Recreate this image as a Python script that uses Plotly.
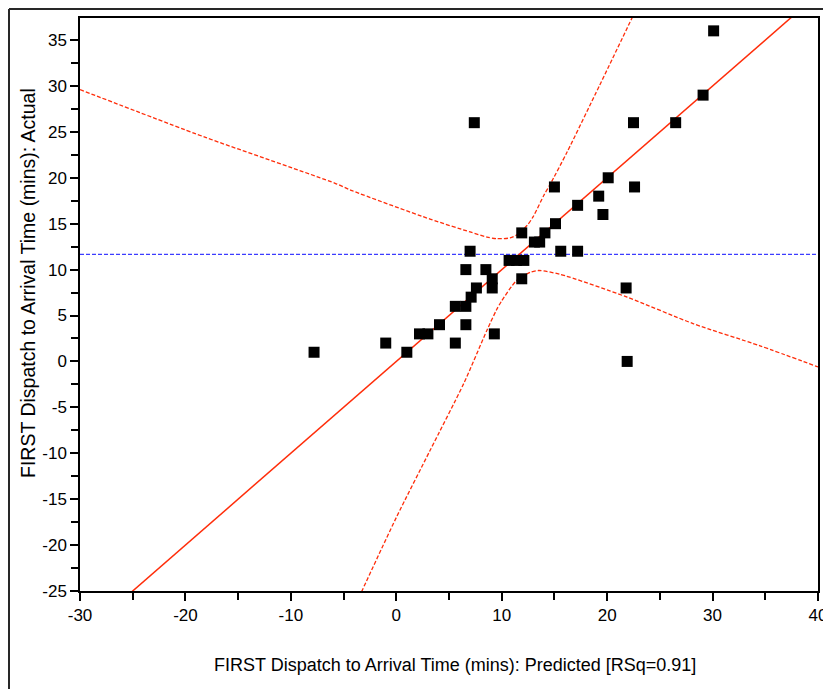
import plotly.graph_objects as go

# ---- data ----
predicted = [30.1, 29.1, 7.4, 22.5, 26.5,
             20.1, 22.6, 15.0, 19.2, 17.2, 19.6, 15.1,
             14.1, 11.9, 13.1, 13.6,
             7.0, 15.6, 17.2,
             10.7, 11.4, 12.1,
             6.6, 8.5,
             9.1, 11.9,
             9.1, 7.6, 21.8,
             7.1,
             5.6, 6.6,
             4.1, 6.6,
             2.2, 3.0, 9.3,
             -1.0, 5.6,
             1.0, -7.8,
             21.9]
actual = [36, 29, 26, 26, 26,
          20, 19, 19, 18, 17, 16, 15,
          14, 14, 13, 13,
          12, 12, 12,
          11, 11, 11,
          10, 10,
          9, 9,
          8, 8, 8,
          7,
          6, 6,
          4, 4,
          3, 3, 3,
          2, 2,
          1, 1,
          0]

fit_x = [-30, 40]
fit_y = [-30, 40]

mean_actual = 11.65
mean_x = [-30, 40]

upper_x = [-30, -18.1, -5.8, -4.2, 3.2, 7.0, 8.6, 9.5, 10.8, 11.4, 12.4, 13.0, 14.0, 14.6, 16.2, 19.3, 22.4]
upper_y = [29.6, 24.4, 19.4, 18.6, 15.5, 14.1, 13.55, 13.37, 13.45, 13.75, 14.8, 15.8, 18.1, 19.3, 22.8, 30.1, 37.5]

lower_x = [-3.3, 0.0, 3.2, 6.4, 8.6, 9.5, 10.0, 11.4, 12.7, 13.5, 15.5, 21.9, 28.2, 34.5, 40.0]
lower_y = [-25.1, -17.0, -9.7, -2.4, 3.4, 5.6, 6.6, 8.8, 9.7, 9.9, 9.5, 7.0, 4.1, 1.7, -0.6]

x_ticks = [-30, -20, -10, 0, 10, 20, 30, 40]
y_ticks = [-25, -20, -15, -10, -5, 0, 5, 10, 15, 20, 25, 30, 35]

x_title = "FIRST Dispatch to Arrival Time (mins): Predicted [RSq=0.91]"
y_title = "FIRST Dispatch to Arrival Time (mins): Actual"

RED = "rgb(255,45,10)"
BLUE = "rgb(60,60,255)"
FONT = "Liberation Sans, Arial, sans-serif"

# page body adds an 8px offset; layout numbers below are in figure pixels
L, R, T, B = 72, 21, 10, 106
PW, PH = 831 - L - R, 689 - T - B


def px(fx):
    return (fx - L) / PW


def py(fy):
    return (689 - B - fy) / PH


fig = go.Figure()

fig.add_trace(go.Scatter(x=mean_x, y=[mean_actual, mean_actual], mode="lines",
                         line=dict(color=BLUE, width=1.3, dash="4px,2px"),
                         hoverinfo="skip", showlegend=False))
fig.add_trace(go.Scatter(x=upper_x, y=upper_y, mode="lines",
                         line=dict(color=RED, width=1.3, dash="4px,2px", shape="spline", smoothing=0.7),
                         hoverinfo="skip", showlegend=False))
fig.add_trace(go.Scatter(x=lower_x, y=lower_y, mode="lines",
                         line=dict(color=RED, width=1.3, dash="4px,2px", shape="spline", smoothing=0.7),
                         hoverinfo="skip", showlegend=False))
fig.add_trace(go.Scatter(x=fit_x, y=fit_y, mode="lines",
                         line=dict(color=RED, width=1.5),
                         hoverinfo="skip", showlegend=False))
fig.add_trace(go.Scatter(x=predicted, y=actual, mode="markers",
                         marker=dict(symbol="square", size=11, color="black", line=dict(width=0)),
                         showlegend=False, cliponaxis=False))

axis_common = dict(showgrid=False, zeroline=False, showline=True, linecolor="black",
                   linewidth=1.5, mirror=True, ticks="outside", tickcolor="black",
                   ticklen=8, tickwidth=1.5,
                   tickfont=dict(family=FONT, size=17, color="black"))

fig.update_xaxes(range=[-30, 40], tickvals=x_ticks, ticktext=[str(v) for v in x_ticks],
                 minor=dict(dtick=5, tick0=0, ticks="outside", ticklen=7, tickwidth=1.5,
                            tickcolor="black"),
                 **axis_common)
fig.update_yaxes(range=[-25, 37.4], tickvals=y_ticks, ticktext=[str(v) for v in y_ticks],
                 minor=dict(dtick=2.5, tick0=0, ticks="outside", ticklen=7, tickwidth=1.5,
                            tickcolor="black"),
                 **axis_common)

fig.update_layout(
    width=831, height=689,
    margin=dict(l=L, r=R, t=T, b=B, autoexpand=False),
    paper_bgcolor="white", plot_bgcolor="white",
    font=dict(family=FONT, size=17, color="black"),
    annotations=[
        dict(text=x_title, xref="paper", yref="paper",
             x=px(447), y=py(657), xanchor="center", yanchor="middle",
             showarrow=False, font=dict(family=FONT, size=18, color="black")),
        dict(text=y_title, xref="paper", yref="paper",
             x=px(20), y=py(275), xanchor="center", yanchor="middle",
             textangle=-90, showarrow=False, font=dict(family=FONT, size=19.5, color="black")),
    ],
    shapes=[
        dict(type="line", xref="paper", yref="paper",
             x0=px(1), x1=px(831), y0=py(1), y1=py(1),
             line=dict(color="rgb(40,40,40)", width=2)),
        dict(type="line", xref="paper", yref="paper",
             x0=px(1), x1=px(1), y0=py(1), y1=py(689),
             line=dict(color="rgb(40,40,40)", width=2)),
    ],
)

fig.write_html("out.html")
